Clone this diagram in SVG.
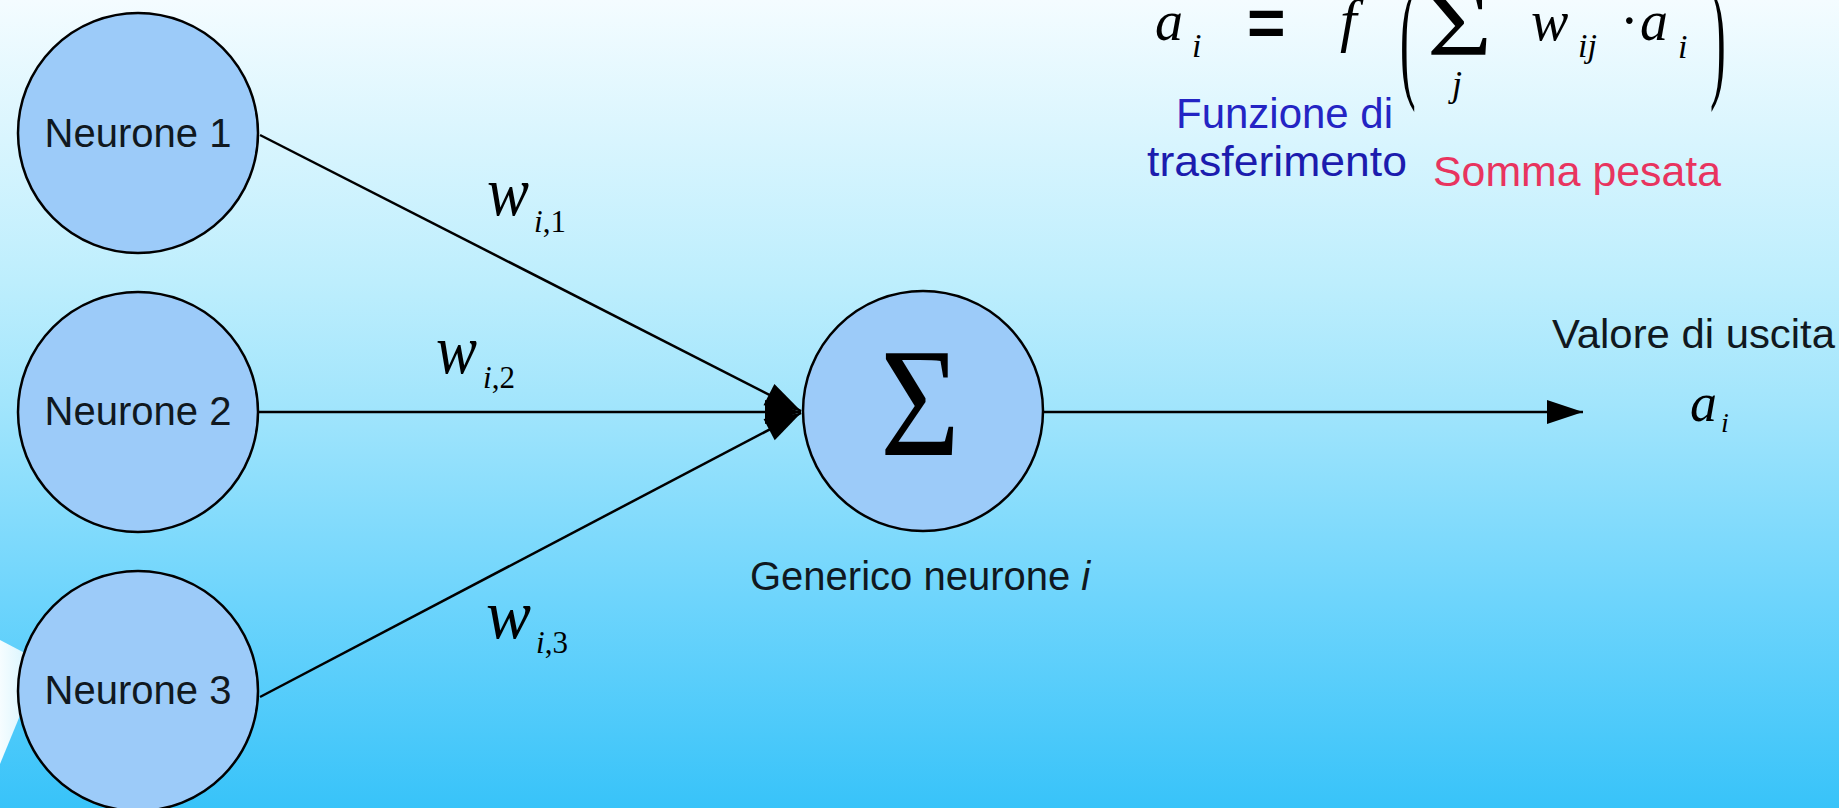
<svg xmlns="http://www.w3.org/2000/svg" width="1839" height="808" viewBox="0 0 1839 808">
<defs>
<linearGradient id="bg" x1="0" y1="0" x2="0" y2="1">
<stop offset="0" stop-color="#f4fcff"/>
<stop offset="0.35" stop-color="#bdeefd"/>
<stop offset="0.5" stop-color="#a2e5fc"/>
<stop offset="0.75" stop-color="#6cd4fc"/>
<stop offset="1" stop-color="#38c3f9"/>
</linearGradient>
<linearGradient id="wedge" x1="0" y1="0" x2="1" y2="0">
<stop offset="0" stop-color="#f6fdff"/>
<stop offset="1" stop-color="#c9f0fd"/>
</linearGradient>
<marker id="arr" markerUnits="userSpaceOnUse" markerWidth="36" markerHeight="24" refX="36" refY="12" orient="auto" overflow="visible">
<path d="M0,0 L36,12 L0,24 z" fill="#000"/>
</marker>
<style>
.node{fill:#9ccbf9;stroke:#000;stroke-width:2.5}
.lbl{font-family:"Liberation Sans",Arial,sans-serif;font-size:40px;fill:#101820}
.cap{font-family:"Liberation Sans",Arial,sans-serif;font-size:42px}
.math{font-family:"Liberation Serif","Times New Roman",serif;font-style:italic;fill:#000}
.up{font-family:"Liberation Serif","Times New Roman",serif;fill:#000}
.edge{stroke:#000;stroke-width:2.5;fill:none}
</style>
</defs>
<rect x="0" y="0" width="1839" height="808" fill="url(#bg)"/>
<polygon points="0,640 42,662 0,764" fill="url(#wedge)"/>

<g id="connectors">
<line class="edge" x1="260" y1="135" x2="801" y2="411" marker-end="url(#arr)"/>
<line class="edge" x1="258" y1="412" x2="801" y2="412" marker-end="url(#arr)"/>
<line class="edge" x1="260" y1="697" x2="801" y2="413" marker-end="url(#arr)"/>
<line class="edge" x1="1044" y1="412" x2="1583" y2="412" marker-end="url(#arr)"/>
</g>

<g id="neurone1">
<circle class="node" cx="138" cy="133" r="120"/>
<text class="lbl" x="138" y="147" text-anchor="middle">Neurone 1</text>
</g>
<g id="neurone2">
<circle class="node" cx="138" cy="412" r="120"/>
<text class="lbl" x="138" y="425" text-anchor="middle">Neurone 2</text>
</g>
<g id="neurone3">
<circle class="node" cx="138" cy="691" r="120"/>
<text class="lbl" x="138" y="704" text-anchor="middle">Neurone 3</text>
</g>
<g id="neurone-i">
<circle class="node" cx="923" cy="411" r="120"/>
<text class="up" x="880" y="455" font-size="154" textLength="80" lengthAdjust="spacingAndGlyphs">Σ</text>
<text class="lbl" x="750" y="590" font-size="42">Generico neurone <tspan font-style="italic">i</tspan></text>
</g>

<g id="weights">
<text class="math" x="487" y="215" font-size="70" textLength="42" lengthAdjust="spacingAndGlyphs">w</text>
<text class="math" x="534" y="232" font-size="31">i<tspan font-style="normal">,1</tspan></text>
<text class="math" x="436" y="373" font-size="70" textLength="41" lengthAdjust="spacingAndGlyphs">w</text>
<text class="math" x="483" y="388" font-size="31">i<tspan font-style="normal">,2</tspan></text>
<text class="math" x="486" y="638" font-size="70" textLength="45" lengthAdjust="spacingAndGlyphs">w</text>
<text class="math" x="536" y="653" font-size="31">i<tspan font-style="normal">,3</tspan></text>
</g>

<g id="output">
<text class="lbl" x="1552" y="348" font-size="41" textLength="283" lengthAdjust="spacingAndGlyphs">Valore di uscita</text>
<text class="math" x="1690" y="421" font-size="54">a</text>
<text class="math" x="1721" y="432" font-size="28">i</text>
</g>

<g id="formula">
<text class="math" x="1155" y="40" font-size="56">a</text>
<text class="math" x="1192" y="57" font-size="34">i</text>
<text x="1247" y="46" font-family="Liberation Sans,Arial,sans-serif" font-weight="bold" font-size="66">=</text>
<text class="math" x="1340" y="40" font-size="60">f</text>
<text class="up" transform="translate(1400,83) scale(0.35,1)" font-size="135">(</text>
<text class="up" x="1427" y="55" font-size="92" textLength="65" lengthAdjust="spacingAndGlyphs">Σ</text>
<text class="math" x="1452" y="96" font-size="36">j</text>
<text class="math" x="1531" y="40" font-size="56">w</text>
<text class="math" x="1578" y="57" font-size="34">ij</text>
<text class="up" x="1620" y="40" font-size="56">·</text>
<text class="math" x="1640" y="40" font-size="56">a</text>
<text class="math" x="1678" y="58" font-size="34">i</text>
<text class="up" transform="translate(1710,83) scale(0.35,1)" font-size="135">)</text>
<text class="cap" x="1176" y="128" fill="#2424c4" textLength="217" lengthAdjust="spacingAndGlyphs">Funzione di</text>
<text class="cap" x="1147" y="176" fill="#1c1cae" textLength="260" lengthAdjust="spacingAndGlyphs">trasferimento</text>
<text class="cap" x="1433" y="186" fill="#e8345f" textLength="288" lengthAdjust="spacingAndGlyphs">Somma pesata</text>
</g>
</svg>
